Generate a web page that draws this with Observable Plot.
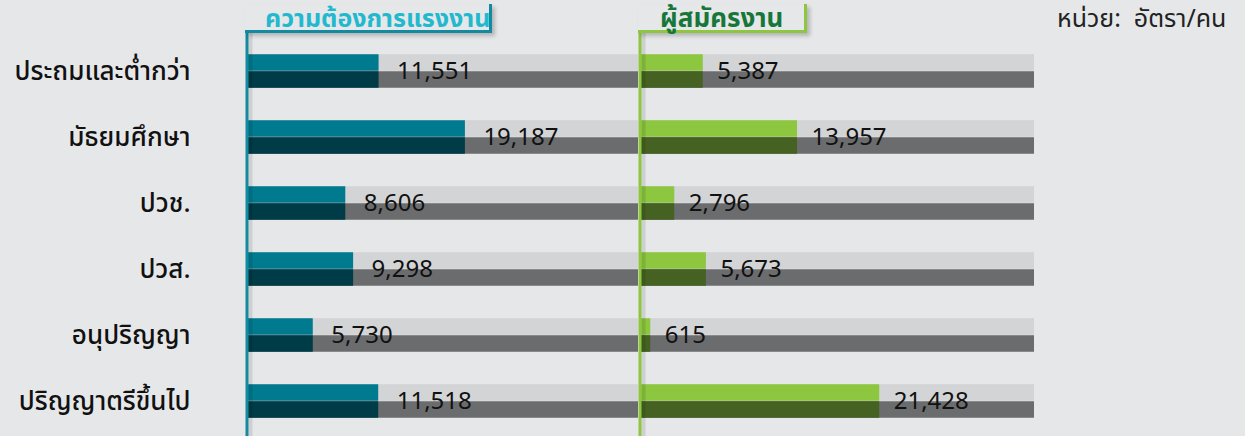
<!DOCTYPE html>
<html><head><meta charset="utf-8">
<script src="https://cdn.jsdelivr.net/npm/d3@7"></script>
<script src="https://cdn.jsdelivr.net/npm/@observablehq/plot@0.6"></script>
<style>
html,body{margin:0;padding:0;background:#e6e7e9;}
#wrap{position:relative;width:1245px;height:436px;overflow:hidden;font-family:"Noto Sans Thai","Noto Sans",sans-serif;}
.hdr{position:absolute;top:4px;height:26px;border-right:3px solid;border-bottom:3px solid;box-shadow:3px 3px 4px rgba(0,0,0,.22);}
.ttl{position:absolute;top:2px;height:34px;line-height:34px;font-weight:700;white-space:nowrap;}
.unit{position:absolute;top:0;left:1057px;height:38px;line-height:38px;font-size:25px;color:#222;white-space:pre;}
.pl{position:absolute;top:33px;}
</style></head>
<body><div id="wrap"></div>
<script>
const categories = ["ประถมและต่ำกว่า","มัธยมศึกษา","ปวช.","ปวส.","อนุปริญญา","ปริญญาตรีขึ้นไป"];
const demand = [11551,19187,8606,9298,5730,11518];
const applicants = [5387,13957,2796,5673,615,21428];
const panelTitles = ["ความต้องการแรงงาน","ผู้สมัครงาน"];
const unitLabel = "หน่วย:  อัตรา/คน";

const wrap = document.getElementById("wrap");
const fmt = d3.format(",");

function panel(o){
  const data = categories.map((c,i)=>({c, v:o.values[i]}));
  const half = {insetTop:16.25, insetBottom:33.25, insetLeft:o.inL};
  const low = {insetTop:33.25, insetBottom:16.25, insetLeft:o.inL};
  return Plot.plot({
    width:o.width, height:403, marginTop:0, marginBottom:0,
    marginLeft:o.mL, marginRight:o.mR,
    style:{background:"transparent", fontFamily:'"Noto Sans Thai","Noto Sans",sans-serif'},
    x:{domain:[0,o.max], axis:null},
    y:{domain:categories, padding:0, insetTop:3, insetBottom:1, axis:null, label:null},
    marks:[
      Plot.barX(data,{x1:0, x2:o.max, y:"c", fill:"#d3d4d6", ...half}),
      Plot.barX(data,{x1:0, x2:o.max, y:"c", fill:"#6b6c6e", ...low}),
      Plot.barX(data,{x1:0, x2:"v", y:"c", fill:o.top, ...half}),
      Plot.barX(data,{x1:0, x2:"v", y:"c", fill:o.bottom, ...low}),
      Plot.text(data,{x:"v", y:"c", text:d=>fmt(d.v), textAnchor:"start", dx:o.labDx, fontSize:24, fill:"#111"}),
      Plot.ruleX([0],{stroke:"rgba(0,0,0,0.10)", strokeWidth:4, dx:o.lineDx+3.5}),
      Plot.ruleX([0],{stroke:o.line, strokeWidth:3, dx:o.lineDx}),
      o.axis ? Plot.axisY({tickSize:0, tickPadding:58, fontSize:26, fill:"#111", fontWeight:500, label:null}) : null
    ]
  });
}

const left = panel({values:demand, width:640, mL:248, mR:2, max:34500, inL:-1, lineDx:-1.5, labDx:18,
  top:"#007a8f", bottom:"#003c48", line:"#138aa0", axis:true});
left.classList.add("pl"); left.style.left="0px";
const right = panel({values:applicants, width:609, mL:7.5, mR:211, max:35500, inL:-2.5, lineDx:-4, labDx:14,
  top:"#8dc63f", bottom:"#466222", line:"#8dc63f", axis:false});
right.classList.add("pl"); right.style.left="636px";
wrap.appendChild(left); wrap.appendChild(right);

function add(cls, css, text){
  const d=document.createElement("div"); d.className=cls; Object.assign(d.style, css);
  if(text) d.textContent=text; wrap.appendChild(d);
}
add("hdr",{left:"245px", width:"244px", borderColor:"#138aa0"});
add("hdr",{left:"638px", width:"166px", borderColor:"#8dc63f"});
add("ttl",{left:"265px", color:"#22b9cf", fontSize:"25px"}, panelTitles[0]);
add("ttl",{left:"660px", color:"#17773a", fontSize:"26px"}, panelTitles[1]);
add("unit",{}, unitLabel);
</script></body></html>
